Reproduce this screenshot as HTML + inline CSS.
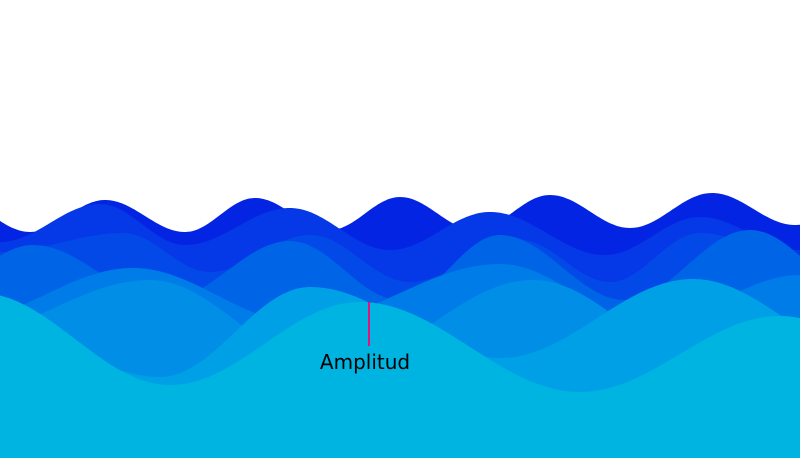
<!DOCTYPE html>
<html><head><meta charset="utf-8"><style>
html,body{margin:0;padding:0;background:#fff;width:800px;height:458px;overflow:hidden}
svg{display:block}
</style></head><body>
<svg id="chart" width="800" height="458" viewBox="0 0 800 458">
<g id="layers"></g>
<line x1="369" y1="302" x2="369" y2="346" stroke="#e0147a" stroke-width="2"/>
<text x="365" y="369" text-anchor="middle" font-family="'DejaVu Sans','Liberation Sans',sans-serif" font-size="20" fill="#000">Amplitud</text>
</svg>
<script>
// Layer colors back to front
const layerColors = ["#0325e3","#0538e6","#0349e8","#0064e6","#007ce8","#008ee6","#00a0e6","#00b4e2"];
// Extrema (peaks/troughs) per layer
const layer1 = [[-45,200],[30,232],[105,200],[185,232],[255,198],[330,230],[400,197],[475,230],[550,195],[630,228],[712,193],[795,225],[870,193]];
const layer2 = [[-60,220],[0,242],[100,204],[185,245],[290,208],[390,250],[490,212],[605,255],[700,217],[800,250],[900,217]];
const layer3 = [[-60,265],[0,252],[123,233],[210,272],[310,235],[410,282],[520,240],[610,282],[700,233],[810,262]];
const layer4 = [[-80,300],[33,245],[165,300],[290,241],[400,300],[500,235],[625,300],[750,230],[870,300]];
const layer5 = [[-40,320],[133,268],[300,322],[500,264],[650,322],[800,275],[950,320]];
const layer6 = [[-40,335],[150,280],[330,368],[533,280],[720,370],[900,285]];
const layer7 = [[0,330],[160,377],[310,287],[500,358],[693,279],[880,360]];
const layer8 = [[-20,293],[170,385],[360,302],[580,392],[780,316],[950,380]];
const layers = [layer1,layer2,layer3,layer4,layer5,layer6,layer7,layer8];

function yAt(pts, x){
  for(let i=0;i<pts.length-1;i++){
    const [x0,y0]=pts[i],[x1,y1]=pts[i+1];
    if(x>=x0 && x<=x1){
      const t=(x-x0)/(x1-x0);
      return y0+(y1-y0)*(1-Math.cos(Math.PI*t))/2;
    }
  }
  return x<pts[0][0]?pts[0][1]:pts[pts.length-1][1];
}
const g=document.getElementById('layers');
layers.forEach((pts,i)=>{
  let d="M0,458 L0,"+yAt(pts,0).toFixed(1);
  for(let x=2;x<=800;x+=2) d+=" L"+x+","+yAt(pts,x).toFixed(1);
  d+=" L800,458 Z";
  const p=document.createElementNS("http://www.w3.org/2000/svg","path");
  p.setAttribute('d',d);
  p.setAttribute('fill',layerColors[i]);
  
  
  g.appendChild(p);
});
</script>
</body></html>
